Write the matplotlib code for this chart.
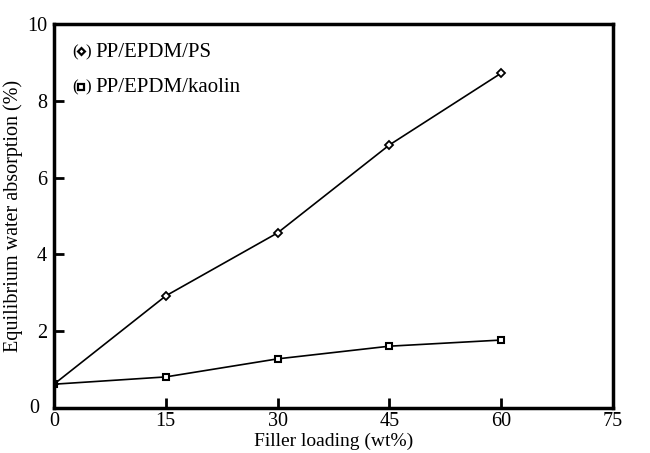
import matplotlib
matplotlib.use("Agg")
import matplotlib.pyplot as plt

plt.rcParams['font.family'] = ['Liberation Serif', 'DejaVu Serif']
plt.rcParams['mathtext.fontset'] = 'stix'

# 数据
loading = [0, 15, 30, 45, 60]
ps = [0.62, 2.92, 4.56, 6.85, 8.72]
kaolin = [0.62, 0.81, 1.28, 1.61, 1.77]
xticks = [0, 15, 30, 45, 60, 75]
yticks = [0, 2, 4, 6, 8, 10]

fig = plt.figure(figsize=(6.5, 4.53), dpi=100)
ax = fig.add_axes([0.083, 0.0993, 0.86, 0.8477])

ax.plot(loading, ps, color='black', lw=1.2, marker='D', ms=4,
        mfc='white', mec='black', mew=1.3)
ax.plot(loading, kaolin, color='black', lw=1.2, marker='s', ms=5,
        mfc='white', mec='black', mew=1.5)

ax.set_xlim(0, 75)
ax.set_ylim(0, 10)
ax.set_xticks(xticks)
ax.set_yticks(yticks)
ax.set_xticklabels(['0', '15', '30', '45', '60', '75'])
ax.set_yticklabels(['', '2', '4', '6', '8', '10'])
ax.tick_params(direction='in', length=7, width=2, labelsize=14.5, top=False, right=False)
ax.tick_params(axis='x', pad=3)
ax.tick_params(axis='y', pad=5)
for s in ax.spines.values():
    s.set_linewidth(2.5)

# y轴的0单独放
ax.text(-0.027, 0.0, '0', transform=ax.transAxes, ha='right', va='center', fontsize=14.5)

ax.set_xlabel('Filler loading (wt%)', fontsize=14, labelpad=1)
ax.set_ylabel('Equilibrium water absorption (%)', fontsize=14.5, labelpad=3)

# 图例：括号里的符号
for yy, mk, ms, lab in [(0.927, 'D', 3.5, 'PP/EPDM/PS'), (0.835, 's', 4.5, 'PP/EPDM/kaolin')]:
    ax.text(0.032, yy, '(', transform=ax.transAxes, ha='left', va='center', fontsize=12)
    ax.plot([0.0485], [yy + 0.002], transform=ax.transAxes, marker=mk, ms=ms,
            mfc='white', mec='black', mew=1.6, color='black', clip_on=False)
    ax.text(0.057, yy, ')', transform=ax.transAxes, ha='left', va='center', fontsize=12)
    ax.text(0.074, yy, lab, transform=ax.transAxes, ha='left', va='center', fontsize=15)

fig.savefig('out.png', dpi=100)
